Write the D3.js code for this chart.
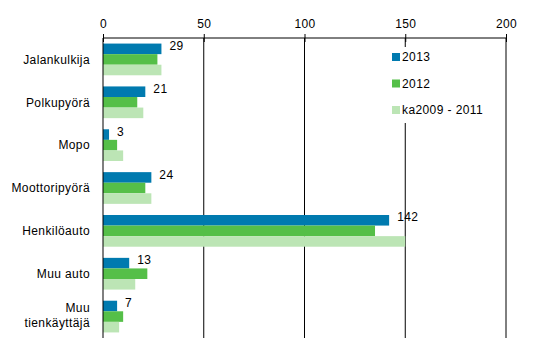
<!DOCTYPE html>
<html>
<head>
<meta charset="utf-8">
<script src="https://cdn.jsdelivr.net/npm/d3@7"></script>
<style>
  body { margin: 0; background: #fff; }
  text { font-family: "Liberation Sans", Arial, sans-serif; font-size: 12px; fill: #000; letter-spacing: 0.4px; }
</style>
</head>
<body>
<div id="chart"></div>
<script>
const categories = ['Jalankulkija', 'Polkupyörä', 'Mopo', 'Moottoripyörä', 'Henkilöauto', 'Muu auto', 'Muu tienkäyttäjä'];
const seriesNames = ['2013', '2012', 'ka2009 - 2011'];
const values2013 = [29, 21, 3, 24, 142, 13, 7];
const values2012 = [27, 17, 7, 21, 135, 22, 10];
const valuesAvg = [29, 20, 10, 24, 150, 16, 8];
const xTicks = [0, 50, 100, 150, 200];
const colors = ['#007aaf', '#55bf48', '#bce5b5'];

const width = 548;
const height = 362;
const margin = { top: 38, right: 42, bottom: 24, left: 103 };

const series = [values2013, values2012, valuesAvg];

const svg = d3.select('#chart')
  .append('svg')
  .attr('width', width)
  .attr('height', height);

const x = d3.scaleLinear().domain([0, 200]).range([margin.left, width - margin.right]);
const y = d3.scaleBand().domain(categories).range([margin.top, height - margin.bottom]).paddingInner(0.26).paddingOuter(0.13);
const ySub = d3.scaleBand().domain(d3.range(series.length)).range([0, y.bandwidth()]);

// gridlines
svg.append('g')
  .selectAll('line')
  .data(xTicks.slice(1))
  .join('line')
  .attr('x1', (d) => x(d))
  .attr('x2', (d) => x(d))
  .attr('y1', margin.top)
  .attr('y2', height - margin.bottom)
  .attr('stroke', '#000')
  .attr('stroke-width', 1);

// bars
svg.append('g')
  .selectAll('g')
  .data(categories)
  .join('g')
  .attr('transform', (d) => `translate(0,${y(d)})`)
  .selectAll('rect')
  .data((d, i) => series.map((s, k) => ({ k, v: s[i] })))
  .join('rect')
  .attr('x', x(0))
  .attr('y', (d) => ySub(d.k))
  .attr('width', (d) => x(d.v) - x(0))
  .attr('height', ySub.bandwidth())
  .attr('fill', (d) => colors[d.k]);

// value labels for 2013
svg.append('g')
  .selectAll('text')
  .data(categories)
  .join('text')
  .attr('x', (d, i) => x(values2013[i]) + 8)
  .attr('y', (d) => y(d) + ySub(0) + ySub.bandwidth() / 2)
  .attr('dy', '0.1em')
  .text((d, i) => values2013[i]);

// legend (white box covers gridline)
const legend = svg.append('g').attr('transform', 'translate(392,47)');
legend.append('rect')
  .attr('x', -4).attr('y', 0).attr('width', 100).attr('height', 76)
  .attr('fill', '#fff');
seriesNames.forEach((name, i) => {
  const g = legend.append('g').attr('transform', `translate(0,${6 + i * 26.5})`);
  g.append('rect').attr('width', 8).attr('height', 8).attr('fill', colors[i]);
  g.append('text').attr('x', 10).attr('y', 4).attr('dy', '0.36em').text(name);
});

// top axis
const axis = svg.append('g')
  .attr('transform', `translate(0,${margin.top})`)
  .call(d3.axisTop(x).tickValues(xTicks).tickSize(4).tickPadding(6));
axis.select('.domain').attr('stroke', '#000').attr('d', `M${x(0)},0H${x(200)}`);
axis.selectAll('.tick line').attr('y2', 4).attr('y1', -4);
axis.selectAll('.tick text').attr('font-size', 12).attr('font-family', '"Liberation Sans", Arial, sans-serif').attr('fill', '#000');

// left axis line
svg.append('line')
  .attr('x1', x(0)).attr('x2', x(0))
  .attr('y1', margin.top).attr('y2', height - margin.bottom)
  .attr('stroke', '#000');

// category labels
const labels = svg.append('g')
  .selectAll('text')
  .data(categories)
  .join('text')
  .attr('text-anchor', 'end')
  .attr('x', 90)
  .attr('y', (d) => y(d) + y.bandwidth() / 2)
  .attr('dy', '0.36em');
labels.each(function (d) {
  const t = d3.select(this);
  const parts = d === 'Muu tienkäyttäjä' ? ['Muu', 'tienkäyttäjä'] : [d];
  parts.forEach((p, i) => {
    t.append('tspan')
      .attr('x', 90)
      .attr('dy', parts.length > 1 ? (i === 0 ? '-0.35em' : '1.25em') : null)
      .text(p);
  });
});
</script>
</body>
</html>
